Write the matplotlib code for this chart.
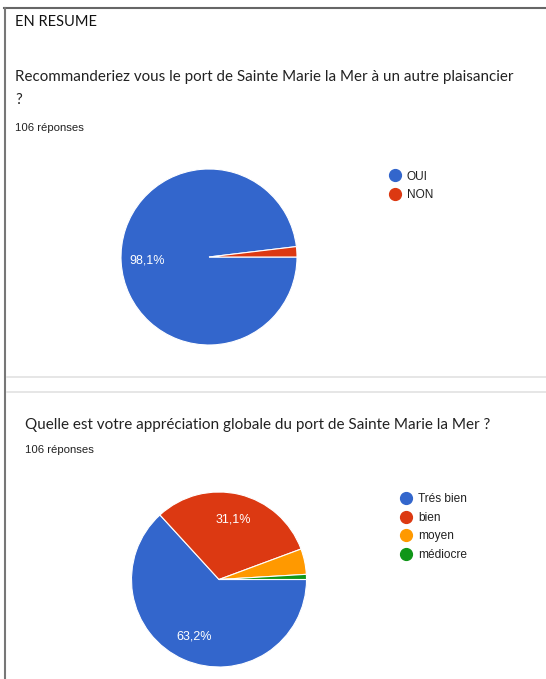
import matplotlib.pyplot as plt
from matplotlib.lines import Line2D

W, H = 546, 679

# data (106 answers each)
q1_labels = ['OUI', 'NON']
q1_counts = [104, 2]
q1_colors = ['#3366cc', '#dc3912']

q2_labels = ['Trés bien', 'bien', 'moyen', 'médiocre']
q2_counts = [67, 33, 5, 1]
q2_colors = ['#3366cc', '#dc3912', '#ff9900', '#109618']

section_title = 'EN RESUME'
q1_title = 'Recommanderiez vous le port de Sainte Marie la Mer à un autre plaisancier'
q2_title = 'Quelle est votre appréciation globale du port de Sainte Marie la Mer ?'
n_responses = 106

TITLE_FONT = 'Lato'
CHART_FONT = 'Liberation Sans'

fig = plt.figure(figsize=(W / 100, H / 100), dpi=100)


def fx(x):
    return x / W


def fy(y):
    return 1 - y / H


def pct_label(p):
    # small slices get no label, like the google forms chart
    if p < 10:
        return ''
    return f'{p:.1f}%'.replace('.', ',')


def draw_pie(counts, colors, labels, cx, cy, r, leg_x, leg_y):
    ax = fig.add_axes([fx(cx - r), fy(cy + r), 2 * r / W, 2 * r / H])
    ax.pie(counts, colors=colors, startangle=0, counterclock=False,
           autopct=pct_label, pctdistance=0.71,
           wedgeprops=dict(edgecolor='white', linewidth=0.8),
           textprops=dict(color='white', fontsize=9, family=CHART_FONT))
    ax.set_xlim(-1, 1)
    ax.set_ylim(-1, 1)

    handles = [Line2D([], [], marker='o', linestyle='none', markersize=8.5,
                      markerfacecolor=c, markeredgecolor=c) for c in colors]
    fig.legend(handles, labels, loc='upper left',
               bbox_to_anchor=(fx(leg_x), fy(leg_y)),
               frameon=False, borderpad=0, borderaxespad=0,
               handlelength=1, handletextpad=0.45, labelspacing=0.54,
               prop=dict(family=CHART_FONT, size=8.6), labelcolor='#222222')
    return ax


# frame of the screenshot
fig.add_artist(Line2D([fx(4), fx(546)], [fy(8), fy(8)], color='#666666', lw=1.5))
fig.add_artist(Line2D([fx(5), fx(5)], [fy(8), fy(679)], color='#777777', lw=1.5))
fig.add_artist(Line2D([fx(7), fx(546)], [fy(377), fy(377)], color='#e2e2e2', lw=1.2))
fig.add_artist(Line2D([fx(7), fx(546)], [fy(392), fy(392)], color='#e2e2e2', lw=1.2))

# texts
fig.text(fx(15), fy(22), section_title, family=TITLE_FONT, fontsize=10.5,
         color='#111111', va='center')
fig.text(fx(15), fy(77), q1_title, family=TITLE_FONT, fontsize=10.9,
         color='#222222', va='center')
fig.text(fx(15), fy(100), '?', family=TITLE_FONT, fontsize=10.9,
         color='#222222', va='center')
fig.text(fx(15), fy(128), f'{n_responses} réponses', family=CHART_FONT,
         fontsize=8.2, color='#222222', va='center')

fig.text(fx(25), fy(425), q2_title, family=TITLE_FONT, fontsize=11,
         color='#222222', va='center')
fig.text(fx(25), fy(450), f'{n_responses} réponses', family=CHART_FONT,
         fontsize=8.2, color='#222222', va='center')

# pies
draw_pie(q1_counts, q1_colors, q1_labels, 209, 257, 88, 389.5, 170.5)
draw_pie(q2_counts, q2_colors, q2_labels, 219, 579.5, 87.5, 400.5, 493.5)

fig.savefig('out.png', dpi=100, facecolor='white')
